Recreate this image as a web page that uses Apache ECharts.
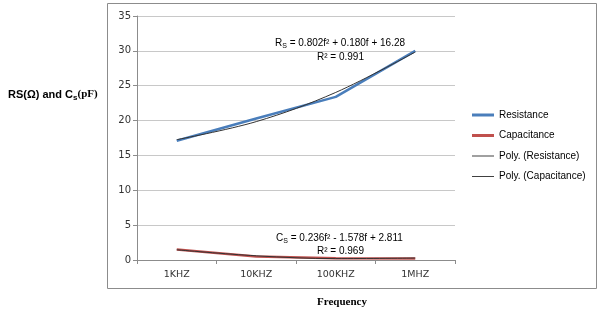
<!DOCTYPE html>
<html><head><meta charset="utf-8">
<script src="https://cdn.jsdelivr.net/npm/echarts@6/dist/echarts.min.js"></script>
<style>html,body{margin:0;padding:0;background:#fff}#c{width:600px;height:313px}</style>
</head><body><div id="c"></div>
<script>
const categories = ['1KHZ', '10KHZ', '100KHZ', '1MHZ'];
const resistance = [17.1, 20.3, 23.4, 30.0];
const capacitance = [1.5, 0.5, 0.25, 0.2];
const polyResistance = [17.26, 19.85, 24.04, 29.83];
const polyCapacitance = [1.47, 0.60, 0.20, 0.28];
const yTicks = { min: 0, max: 35, interval: 5 };

const chart = echarts.init(document.getElementById('c'), null, { renderer: 'canvas' });
const sans = 'Liberation Sans';
const subRich = {
  m: { fontFamily: sans, fontSize: 10, color: '#000', lineHeight: 13 },
  s: { fontFamily: sans, fontSize: 7, color: '#000', verticalAlign: 'bottom', lineHeight: 10 }
};
const thick = 'path://M0,0 H22 V3 H0 Z';
const thin = 'path://M0,0 H22 V1 H0 Z';
chart.setOption({
  animation: false,
  grid: { left: 137, right: 145, top: 16, bottom: 53 },
  xAxis: {
    type: 'category', data: categories, boundaryGap: true,
    axisLine: { lineStyle: { color: '#8c8c8c' } },
    axisTick: { show: true, length: 4, lineStyle: { color: '#8c8c8c' } },
    axisLabel: { color: '#333', fontFamily: 'DejaVu Sans', fontSize: 9.5, margin: 10 }
  },
  yAxis: {
    type: 'value', min: yTicks.min, max: yTicks.max, interval: yTicks.interval,
    axisLine: { show: true, lineStyle: { color: '#8c8c8c' } },
    axisTick: { show: true, length: 4, lineStyle: { color: '#8c8c8c' } },
    splitLine: { lineStyle: { color: '#c8c8c8' } },
    axisLabel: { color: '#333', fontFamily: 'DejaVu Sans', fontSize: 10, margin: 6 }
  },
  legend: {
    orient: 'vertical', left: 472, top: 110, padding: 0, itemWidth: 22, itemHeight: 10, itemGap: 10.5,
    textStyle: { fontFamily: sans, fontSize: 10, color: '#000' },
    data: [
      { name: 'Resistance', icon: thick },
      { name: 'Capacitance', icon: thick },
      { name: 'Poly. (Resistance)', icon: thin },
      { name: 'Poly. (Capacitance)', icon: thin }
    ]
  },
  series: [
    { name: 'Resistance', type: 'line', data: resistance, symbol: 'none',
      lineStyle: { color: '#4a7ebb', width: 2.5 }, itemStyle: { color: '#4a7ebb' } },
    { name: 'Capacitance', type: 'line', data: capacitance, symbol: 'none',
      lineStyle: { color: '#c0504d', width: 2.5 }, itemStyle: { color: '#c0504d' } },
    { name: 'Poly. (Resistance)', type: 'line', data: polyResistance, symbol: 'none', smooth: 0.35,
      lineStyle: { color: '#333', width: 1 }, itemStyle: { color: '#404040' } },
    { name: 'Poly. (Capacitance)', type: 'line', data: polyCapacitance, symbol: 'none', smooth: 0.35,
      lineStyle: { color: '#333', width: 1 }, itemStyle: { color: '#404040' } }
  ],
  graphic: [
    { type: 'rect', shape: { x: 107.5, y: 3.5, width: 489, height: 285 },
      style: { fill: null, stroke: '#8c8c8c', lineWidth: 1 }, silent: true, z: -1 },
    { type: 'text', left: 8, top: 89,
      style: { text: '{b|RS(Ω) and C}{bs|s}{bp|(pF)}',
        rich: {
          b: { fontFamily: sans, fontWeight: 'bold', fontSize: 11, color: '#000', lineHeight: 14 },
          bs: { fontFamily: sans, fontWeight: 'bold', fontSize: 8, color: '#000', verticalAlign: 'bottom', lineHeight: 11 },
          bp: { fontFamily: 'Liberation Serif', fontWeight: 'bold', fontSize: 11, color: '#000', lineHeight: 14 }
        } } },
    { type: 'text', left: 317, top: 297,
      style: { text: 'Frequency', fontFamily: 'Liberation Serif', fontWeight: 'bold', fontSize: 11, fill: '#000' } },
    { type: 'text', left: 275, top: 38,
      style: { text: '{m|R}{s|S}{m| = 0.802f² + 0.180f + 16.28}', rich: subRich } },
    { type: 'text', left: 317, top: 52,
      style: { text: '{m|R² = 0.991}', rich: subRich } },
    { type: 'text', left: 276, top: 233,
      style: { text: '{m|C}{s|S}{m| = 0.236f² - 1.578f + 2.811}', rich: subRich } },
    { type: 'text', left: 317, top: 246,
      style: { text: '{m|R² = 0.969}', rich: subRich } }
  ]
});
</script></body></html>
